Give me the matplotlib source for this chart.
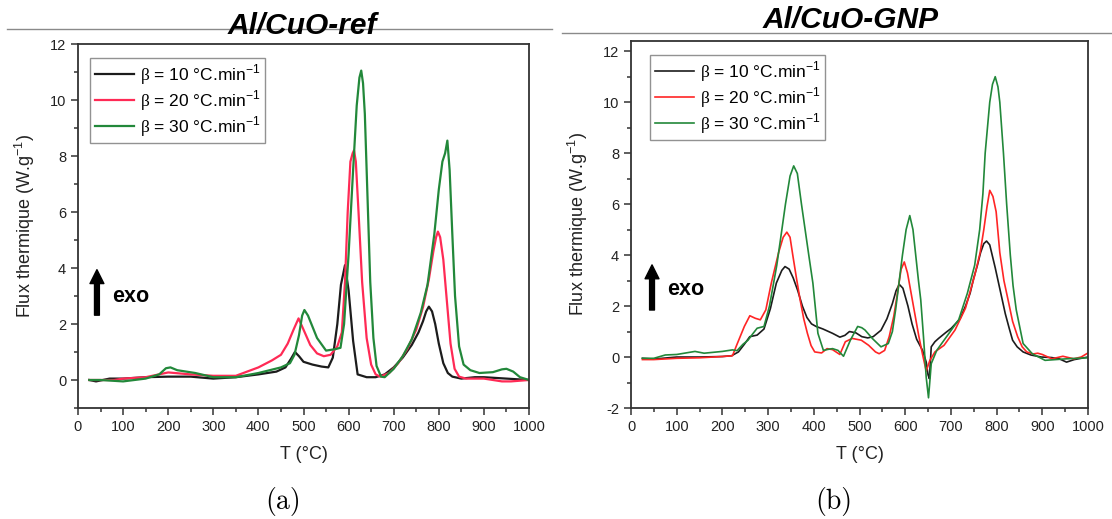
import matplotlib
matplotlib.use("Agg")
import matplotlib.pyplot as plt
from matplotlib.lines import Line2D
from matplotlib.ticker import MultipleLocator

plt.rcParams['font.family'] = ['Liberation Sans', 'DejaVu Sans']
plt.rcParams['axes.unicode_minus'] = False
plt.rcParams['mathtext.fontset'] = 'custom'
plt.rcParams['mathtext.rm'] = 'Liberation Serif'
plt.rcParams['mathtext.sf'] = 'Liberation Sans'

# --- Al/CuO-ref (a) ---
t_ref_10 = [25, 40, 70, 100, 150, 200, 250, 300, 350, 400, 440, 460, 472, 481, 490, 500, 520, 540,
            555, 565, 575, 583, 592, 600, 610, 620, 640, 660, 680, 700, 720, 740, 755, 765, 772, 778,
            785, 792, 800, 810, 820, 830, 850, 880, 900, 950, 1000]
f_ref_10 = [0.0, -0.05, 0.05, 0.05, 0.1, 0.12, 0.12, 0.05, 0.1, 0.2, 0.3, 0.45, 0.75, 1.0, 0.85, 0.65,
            0.55, 0.48, 0.45, 0.8, 2.0, 3.4, 4.1, 3.2, 1.4, 0.2, 0.1, 0.1, 0.2, 0.45, 0.8, 1.25, 1.7,
            2.1, 2.45, 2.62, 2.45, 2.0, 1.3, 0.6, 0.25, 0.12, 0.05, 0.1, 0.1, 0.05, 0.0]

t_ref_20 = [25, 50, 80, 100, 150, 200, 250, 300, 350, 400, 430, 450, 465, 478, 489, 500, 515, 530,
            545, 560, 575, 585, 592, 598, 604, 609, 612, 616, 622, 630, 640, 650, 660, 670, 690, 710,
            730, 750, 765, 778, 788, 794, 798, 803, 810, 818, 826, 835, 845, 860, 900, 940, 960, 1000]
f_ref_20 = [0.0, 0.0, 0.0, 0.05, 0.1, 0.27, 0.2, 0.15, 0.15, 0.45, 0.7, 0.9, 1.3, 1.8, 2.2, 1.8, 1.25,
            0.95, 0.85, 0.9, 1.2, 1.7, 3.5, 6.0, 7.8, 8.1, 8.2, 7.8, 6.0, 3.5, 1.5, 0.55, 0.2, 0.12,
            0.25, 0.6, 1.1, 1.8, 2.6, 3.6, 4.6, 5.1, 5.3, 5.1, 4.3, 2.8, 1.3, 0.4, 0.12, 0.05, 0.05,
            -0.05, -0.05, 0.0]

t_ref_30 = [25, 50, 100, 150, 180, 195, 205, 220, 260, 300, 350, 400, 450, 470, 480, 490, 497, 502,
            510, 530, 550, 570, 582, 590, 600, 610, 618, 624, 628, 632, 636, 642, 648, 655, 662, 672,
            680, 700, 720, 740, 760, 775, 790, 800, 808, 814, 819, 824, 830, 836, 845, 855, 870, 890,
            920, 940, 950, 965, 980, 1000]
f_ref_30 = [0.0, 0.0, -0.05, 0.05, 0.2, 0.42, 0.45, 0.35, 0.25, 0.1, 0.1, 0.25, 0.45, 0.6, 0.9, 1.6,
            2.3, 2.5, 2.3, 1.5, 1.05, 1.1, 1.15, 2.0, 4.5, 7.5, 9.8, 10.8, 11.05, 10.6, 9.5, 6.5, 3.5,
            1.5, 0.5, 0.12, 0.1, 0.4, 0.85, 1.45, 2.4, 3.4, 5.2, 6.8, 7.8, 8.1, 8.55, 7.5, 5.2, 3.0,
            1.2, 0.55, 0.35, 0.25, 0.28, 0.38, 0.4, 0.3, 0.1, 0.0]

# --- Al/CuO-GNP (b) ---
t_gnp_10 = [25, 50, 100, 150, 200, 220, 235, 248, 260, 276, 291, 305, 318, 330, 337, 346, 355, 365,
            375, 385, 395, 405, 420, 441, 457, 468, 478, 492, 505, 518, 530, 547, 560, 572, 580, 587,
            595, 606, 615, 625, 638, 646, 650, 653, 657, 665, 673, 688, 701, 720, 732, 742, 750, 758,
            765, 772, 778, 785, 797, 808, 819, 828, 835, 845, 858, 875, 898, 920, 937, 953, 970, 1000]
f_gnp_10 = [-0.05, -0.08, 0.0, 0.0, 0.02, 0.05, 0.2, 0.5, 0.8, 0.86, 1.1, 1.9, 2.9, 3.4, 3.55, 3.45,
            3.1, 2.6, 2.0, 1.55, 1.3, 1.2, 1.1, 0.93, 0.78, 0.85, 1.0, 0.95, 0.8, 0.75, 0.8, 1.05, 1.5,
            2.1, 2.6, 2.85, 2.7, 2.0, 1.3, 0.7, 0.26, -0.2, -0.7, -0.85, 0.4, 0.6, 0.73, 0.95, 1.13,
            1.5, 2.0, 2.5, 3.1, 3.6, 4.1, 4.45, 4.55, 4.4, 3.5, 2.6, 1.7, 1.1, 0.66, 0.4, 0.2, 0.08,
            0.0, -0.02, -0.07, -0.2, -0.1, 0.0]

t_gnp_20 = [25, 50, 100, 150, 200, 222, 232, 248, 260, 272, 283, 295, 307, 323, 333, 341, 348, 354,
            362, 370, 378, 386, 394, 402, 417, 429, 441, 457, 469, 484, 504, 520, 535, 543, 555, 565,
            575, 583, 591, 598, 605, 614, 622, 630, 638, 646, 654, 665, 685, 709, 732, 752, 764, 772,
            779, 785, 792, 799, 807, 816, 825, 835, 846, 856, 866, 880, 890, 900, 921, 945, 969, 985,
            1000]
f_gnp_20 = [-0.1, -0.1, -0.05, -0.03, 0.02, 0.05, 0.5, 1.2, 1.62, 1.52, 1.46, 1.85, 2.9, 4.1, 4.7,
            4.9, 4.7, 4.0, 3.1, 2.25, 1.5, 0.93, 0.45, 0.2, 0.16, 0.33, 0.29, 0.1, 0.6, 0.73, 0.66,
            0.46, 0.2, 0.13, 0.26, 0.8, 1.6, 2.5, 3.44, 3.73, 3.3, 2.4, 1.6, 0.8, 0.1, -0.55, -0.13,
            0.2, 0.46, 1.06, 1.92, 3.2, 4.1, 5.0, 5.9, 6.54, 6.3, 5.7, 4.1, 3.0, 2.25, 1.4, 0.8, 0.4,
            0.2, 0.12, 0.15, 0.1, -0.07, 0.03, -0.07, 0.0, 0.16]

t_gnp_30 = [25, 50, 75, 100, 140, 160, 200, 222, 232, 245, 256, 266, 276, 291, 303, 311, 319, 327,
            338, 348, 356, 364, 373, 381, 389, 398, 409, 421, 431, 441, 453, 465, 480, 496, 505, 512,
            528, 547, 563, 572, 579, 587, 594, 602, 610, 617, 623, 629, 634, 640, 646, 651, 657, 669,
            693, 717, 736, 752, 763, 770, 775, 780, 785, 791, 797, 803, 807, 811, 815, 822, 830, 836,
            843, 858, 878, 906, 953, 1000]
f_gnp_30 = [-0.05, -0.05, 0.08, 0.1, 0.22, 0.15, 0.22, 0.28, 0.25, 0.5, 0.66, 0.9, 1.13, 1.2, 2.0,
            2.8, 3.6, 4.6, 6.0, 7.1, 7.5, 7.2, 6.0, 5.0, 4.0, 2.9, 0.93, 0.26, 0.3, 0.33, 0.26, 0.03,
            0.66, 1.2, 1.15, 1.06, 0.73, 0.4, 0.53, 1.0, 1.85, 3.0, 4.0, 5.0, 5.55, 5.0, 4.0, 3.0,
            2.25, 0.8, -0.8, -1.6, -0.26, 0.26, 0.86, 1.46, 2.5, 3.6, 5.0, 6.4, 8.0, 9.0, 10.0, 10.7,
            11.0, 10.6, 10.0, 9.0, 8.0, 6.0, 4.0, 2.8, 1.85, 0.53, 0.13, -0.13, -0.07, -0.03]

rates = [10, 20, 30]
colors_ref = ['#1c1c1c', '#ff2a55', '#22883a']
colors_gnp = ['#1c1c1c', '#ff2525', '#22883a']

fig = plt.figure(figsize=(11.12, 5.19), dpi=100)
ax1 = fig.add_axes([78 / 1112, 111 / 519, 451 / 1112, 364 / 519])
ax2 = fig.add_axes([631 / 1112, 111 / 519, 457 / 1112, 367 / 519])


def style_axis(ax, ylim, ymin_tick):
    ax.set_xlim(0, 1000)
    ax.set_ylim(*ylim)
    ax.xaxis.set_major_locator(MultipleLocator(100))
    ax.xaxis.set_minor_locator(MultipleLocator(50))
    ax.yaxis.set_major_locator(MultipleLocator(2))
    ax.yaxis.set_minor_locator(MultipleLocator(1))
    ax.set_yticks(range(ymin_tick, 13, 2))
    for sp in ax.spines.values():
        sp.set_color('#333333')
        sp.set_linewidth(1.3)
    ax.tick_params(which='both', direction='out', color='#333333', width=1.1,
                   labelsize=10.5, labelcolor='#222222', top=False, right=False)
    ax.tick_params(which='major', length=5)
    ax.tick_params(which='minor', length=3)
    ax.set_xlabel('T (°C)', fontsize=13, color='#222222', labelpad=9)
    ax.set_ylabel('Flux thermique (W.g$^{\\mathsf{-1}}$)', fontsize=13, color='#222222', labelpad=9)


series_ref = [(t_ref_10, f_ref_10), (t_ref_20, f_ref_20), (t_ref_30, f_ref_30)]
series_gnp = [(t_gnp_10, f_gnp_10), (t_gnp_20, f_gnp_20), (t_gnp_30, f_gnp_30)]

for ax, series, cols, lw in [(ax1, series_ref, colors_ref, 1.6), (ax2, series_gnp, colors_gnp, 1.2)]:
    for (t, f), c, r in zip(series, cols, rates):
        ax.plot(t, f, color=c, lw=lw, label='$\\mathrm{\\beta}$ = %d °C.min$^{\\mathsf{-1}}$' % r)

style_axis(ax1, (-1, 12), 0)
style_axis(ax2, (-2, 12.4), -2)

legs = []
for ax, x0 in [(ax1, 0.027), (ax2, 0.042)]:
    leg = ax.legend(loc='upper left', bbox_to_anchor=(x0, 0.962), fontsize=12.5, frameon=True,
                    fancybox=False, edgecolor='#777777', handlelength=2.3, labelspacing=0.08,
                    borderpad=0.25, handletextpad=0.3, borderaxespad=0)
    leg.get_frame().set_linewidth(1.0)

# exo arrows
for ax, ax_x, y0, y1, tx, ty in [(ax1, 0.042, 0.255, 0.38, 0.075, 0.305),
                                 (ax2, 0.046, 0.267, 0.39, 0.08, 0.322)]:
    ax.annotate('', xy=(ax_x, y1), xytext=(ax_x, y0), xycoords='axes fraction',
                arrowprops=dict(width=3.5, headwidth=10, headlength=10, color='black'))
    ax.text(tx, ty, 'exo', transform=ax.transAxes, fontsize=15.5, fontweight='bold',
            va='center', ha='left')

# titles and rules
fig.add_artist(Line2D([7 / 1112, 552 / 1112], [1 - 29 / 519] * 2, color='#8a8a8a', lw=1.0))
fig.add_artist(Line2D([562 / 1112, 1.0], [1 - 33 / 519] * 2, color='#8a8a8a', lw=1.0))
fig.text(302 / 1112, 1 - 26 / 519, 'Al/CuO-ref', fontsize=21.5, fontweight='bold', fontstyle='italic',
         ha='center', va='center')
fig.text(851 / 1112, 1 - 20 / 519, 'Al/CuO-GNP', fontsize=21.5, fontweight='bold', fontstyle='italic',
         ha='center', va='center')

fig.text(283 / 1112, 1 - 501 / 519, '(a)', family='cmr10', fontsize=20, ha='center', va='center')
fig.text(834 / 1112, 1 - 501 / 519, '(b)', family='cmr10', fontsize=20, ha='center', va='center')

fig.savefig('out.png', dpi=100)
